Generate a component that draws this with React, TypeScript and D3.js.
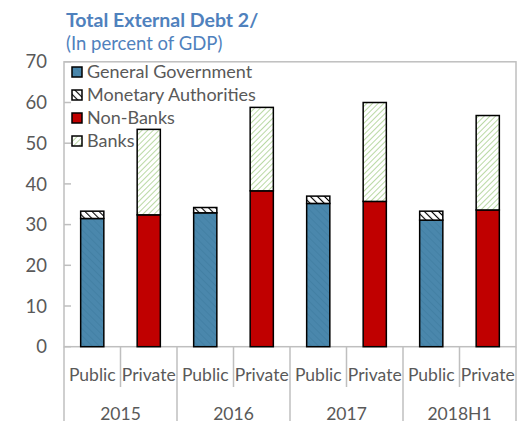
import React from "react";
import * as d3 from "d3";

const years = ["2015", "2016", "2017", "2018H1"];
const sectors = ["Public", "Private"];
const generalGovernment = [31.5, 32.9, 35.2, 31.1];
const monetaryAuthorities = [1.8, 1.3, 1.8, 2.2];
const nonBanks = [32.4, 38.3, 35.7, 33.6];
const banks = [21.0, 20.5, 24.3, 23.2];
const yTicks = [0, 10, 20, 30, 40, 50, 60, 70];
const legendItems = ["General Government", "Monetary Authorities", "Non-Banks", "Banks"];

const W = 520, H = 421;
const L = 64, R = 516, T = 61.8, B = 346.7;
const FONT = "Lato, 'Open Sans', sans-serif";
const GRAY = "#bfbfbf";
const TXT = "#595959";

export default function App() {
  const keys = years.flatMap((y) => sectors.map((s) => `${y}|${s}`));
  const x = d3.scaleBand<string>().domain(keys).range([L, R]).paddingInner(0).paddingOuter(0);
  const y = d3.scaleLinear().domain([0, 70]).range([B, T]);
  const bw = x.bandwidth() * 0.41;

  type Seg = { key: string; y0: number; y1: number; fill: string };
  const segs: Seg[] = [];
  years.forEach((yr, i) => {
    const pk = `${yr}|Public`, vk = `${yr}|Private`;
    segs.push({ key: pk, y0: 0, y1: generalGovernment[i], fill: "url(#pGG)" });
    segs.push({ key: pk, y0: generalGovernment[i], y1: generalGovernment[i] + monetaryAuthorities[i], fill: "url(#pMA)" });
    segs.push({ key: vk, y0: 0, y1: nonBanks[i], fill: "#C00000" });
    segs.push({ key: vk, y0: nonBanks[i], y1: nonBanks[i] + banks[i], fill: "url(#pBK)" });
  });
  const legendFills = ["url(#pGG)", "url(#pMA)", "#C00000", "url(#pBK)"];

  return (
    <svg width={W} height={H} style={{ position: "absolute", left: 0, top: 0 }} fontFamily={FONT}>
      <defs>
        <pattern id="pGG" patternUnits="userSpaceOnUse" width="5" height="5" patternTransform="rotate(-45)">
          <rect width="5" height="5" fill="#4A87AC" />
          <line x1="0" y1="0" x2="0" y2="5" stroke="#417DA1" strokeWidth="1.5" />
        </pattern>
        <pattern id="pMA" patternUnits="userSpaceOnUse" width="5" height="5" patternTransform="rotate(-45)">
          <rect width="5" height="5" fill="#ffffff" />
          <line x1="0" y1="0" x2="0" y2="5" stroke="#000" strokeWidth="2.2" />
        </pattern>
        <pattern id="pBK" patternUnits="userSpaceOnUse" width="4" height="4" patternTransform="rotate(45)">
          <rect width="4" height="4" fill="#ffffff" />
          <line x1="0" y1="0" x2="0" y2="4" stroke="#A9D08E" strokeWidth="1.6" />
        </pattern>
      </defs>
      <rect width={W} height={H} fill="#fff" />

      <text x={66} y={27} fontSize={19.5} fontWeight="bold" fill="#4F81BD">Total External Debt 2/</text>
      <text x={66} y={50} fontSize={18.5} fill="#4F81BD">(In percent of GDP)</text>

      {/* plot frame */}
      <rect x={L} y={T} width={R - L} height={B - T} fill="none" stroke={GRAY} strokeWidth={1.5} />

      {yTicks.map((t) => (
        <g key={t}>
          <line x1={L} x2={L + 7} y1={y(t)} y2={y(t)} stroke={GRAY} strokeWidth={1.5} />
          <text x={47} y={y(t)} dy="0.36em" textAnchor="end" fontSize={18.5} fill={TXT}>{t}</text>
        </g>
      ))}

      {segs.map((s, i) => (
        <rect key={i} x={x(s.key)! + (x.bandwidth() - bw) / 2} y={y(s.y1)} width={bw}
          height={y(s.y0) - y(s.y1)} fill={s.fill} stroke="#000" strokeWidth={1.5} />
      ))}

      {/* category axis */}
      {keys.map((k, i) => {
        const x0 = x(k)!;
        const isGroupStart = i % 2 === 0;
        return (
          <g key={k}>
            <line x1={x0} x2={x0} y1={B} y2={isGroupStart ? H : 387} stroke={GRAY} strokeWidth={1.5} />
            <text x={x0 + x.bandwidth() / 2} y={381} textAnchor="middle" fontSize={17.5} fill={TXT}>{k.split("|")[1]}</text>
          </g>
        );
      })}
      <line x1={R} x2={R} y1={B} y2={H} stroke={GRAY} strokeWidth={1.5} />
      {years.map((yr) => (
        <text key={yr} x={(x(`${yr}|Public`)! + x(`${yr}|Private`)! + x.bandwidth()) / 2} y={419.5}
          textAnchor="middle" fontSize={17.5} fill={TXT}>{yr}</text>
      ))}

      {/* legend */}
      {legendItems.map((name, i) => (
        <g key={name} transform={`translate(72, ${72 + i * 23})`}>
          <rect x={0} y={-5} width={10} height={10} fill={legendFills[i]} stroke="#000" strokeWidth={1.5} />
          <text x={15} y={0} dy="0.36em" fontSize={18} fill={TXT}>{name}</text>
        </g>
      ))}
    </svg>
  );
}
